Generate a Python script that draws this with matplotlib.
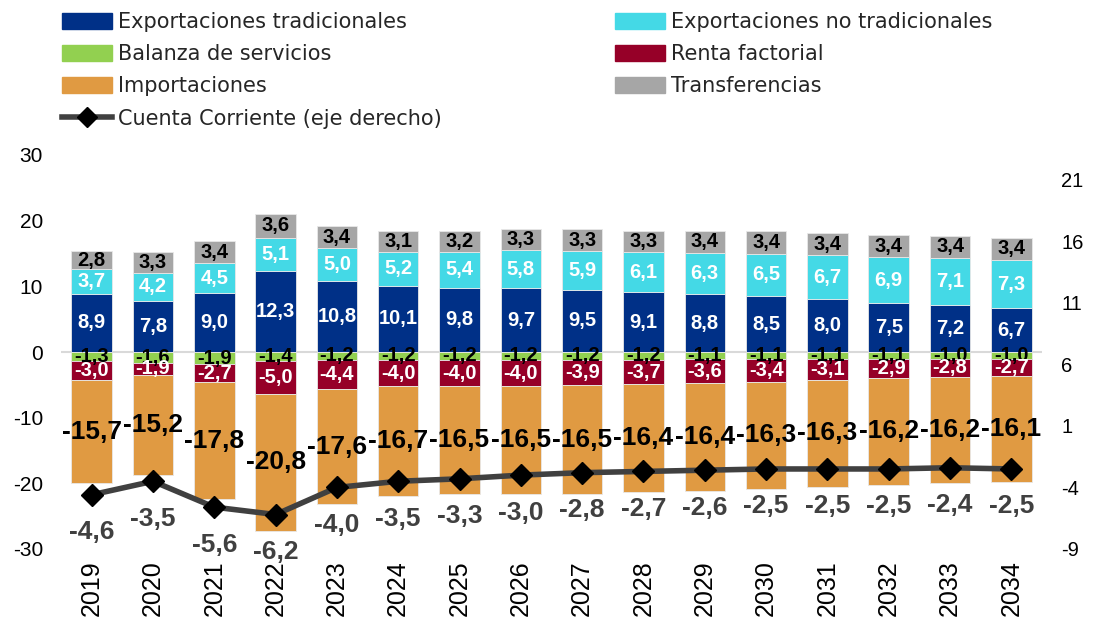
import matplotlib.pyplot as plt
import numpy as np
from matplotlib.patches import Patch
from matplotlib.lines import Line2D

years = ['2019', '2020', '2021', '2022', '2023', '2024', '2025', '2026',
         '2027', '2028', '2029', '2030', '2031', '2032', '2033', '2034']
exp_trad = [8.9, 7.8, 9.0, 12.3, 10.8, 10.1, 9.8, 9.7, 9.5, 9.1, 8.8, 8.5, 8.0, 7.5, 7.2, 6.7]
exp_no_trad = [3.7, 4.2, 4.5, 5.1, 5.0, 5.2, 5.4, 5.8, 5.9, 6.1, 6.3, 6.5, 6.7, 6.9, 7.1, 7.3]
transferencias = [2.8, 3.3, 3.4, 3.6, 3.4, 3.1, 3.2, 3.3, 3.3, 3.3, 3.4, 3.4, 3.4, 3.4, 3.4, 3.4]
servicios = [-1.3, -1.6, -1.9, -1.4, -1.2, -1.2, -1.2, -1.2, -1.2, -1.2, -1.1, -1.1, -1.1, -1.1, -1.0, -1.0]
renta = [-3.0, -1.9, -2.7, -5.0, -4.4, -4.0, -4.0, -4.0, -3.9, -3.7, -3.6, -3.4, -3.1, -2.9, -2.8, -2.7]
importaciones = [-15.7, -15.2, -17.8, -20.8, -17.6, -16.7, -16.5, -16.5, -16.5, -16.4, -16.4, -16.3, -16.3, -16.2, -16.2, -16.1]
cuenta_corriente = [-4.6, -3.5, -5.6, -6.2, -4.0, -3.5, -3.3, -3.0, -2.8, -2.7, -2.6, -2.5, -2.5, -2.5, -2.4, -2.5]

c_trad = '#003087'
c_notrad = '#44D9E6'
c_transf = '#A6A6A6'
c_serv = '#92D050'
c_renta = '#960028'
c_imp = '#E09A42'
c_line = '#404040'

plt.rcParams['font.family'] = ['Liberation Sans', 'DejaVu Sans']
plt.rcParams['axes.unicode_minus'] = False

fig = plt.figure(figsize=(10.93, 6.32), dpi=100)
ax = fig.add_axes([61 / 1093, 1 - 549 / 632, (1042 - 61) / 1093, (549 - 155) / 632])
ax2 = ax.twinx()

x = np.arange(len(years))
w = 0.66
edge = dict(edgecolor='#e8e8e8', linewidth=0.6)


def fmt(v):
    return f'{v:.1f}'.replace('.', ',')


def stack(vals, bottoms, color, txtcolor, size=14.5):
    ax.bar(x, vals, w, bottom=bottoms, color=color, zorder=2, **edge)
    for xi, v, b in zip(x, vals, bottoms):
        ax.text(xi, b + v / 2, fmt(v), ha='center', va='center', color=txtcolor,
                fontsize=size, fontweight='bold', zorder=5)


zero = np.zeros(len(x))
pos1 = np.array(exp_trad)
pos2 = pos1 + np.array(exp_no_trad)
neg1 = np.array(servicios)
neg2 = neg1 + np.array(renta)

stack(exp_trad, zero, c_trad, 'white')
stack(exp_no_trad, pos1, c_notrad, 'white')
stack(transferencias, pos2, c_transf, 'black')
stack(servicios, zero, c_serv, 'black')
stack(renta, neg1, c_renta, 'white')
stack(importaciones, neg2, c_imp, 'black', size=19)

ax.axhline(0, color='#d9d9d9', lw=1.5, zorder=1)
ax.set_xlim(-0.5, 15.5)
ax.set_ylim(-30, 30)
ax.set_yticks([-30, -20, -10, 0, 10, 20, 30])
ax.set_xticks(x)
ax.set_xticklabels(years, rotation=90, fontsize=18)
ax.tick_params(axis='y', labelsize=15, length=0, pad=13)
ax.tick_params(axis='x', length=0, pad=8)
for s in ax.spines.values():
    s.set_visible(False)

# cuenta corriente (eje derecho)
ax2.plot(x, cuenta_corriente, color=c_line, lw=4, marker='D', markersize=11,
         markerfacecolor='black', markeredgecolor='black', zorder=4)
for xi, v in zip(x, cuenta_corriente):
    ax2.annotate(fmt(v), (xi, v), xytext=(0, -27), textcoords='offset points',
                 ha='center', va='center', color=c_line, fontsize=19, fontweight='bold')
ax2.set_ylim(-9, 23)
ax2.set_yticks([-9, -4, 1, 6, 11, 16, 21])
ax2.tick_params(axis='y', labelsize=14.5, length=0, pad=14)
for s in ax2.spines.values():
    s.set_visible(False)
ax.set_zorder(1)
ax.patch.set_visible(False)
ax2.set_zorder(2)

# legend
h1 = [Patch(color=c_trad), Patch(color=c_serv), Patch(color=c_imp),
      Line2D([], [], color=c_line, lw=4, marker='D', markersize=10,
             markerfacecolor='black', markeredgecolor='black')]
l1 = ['Exportaciones tradicionales', 'Balanza de servicios', 'Importaciones',
      'Cuenta Corriente (eje derecho)']
h2 = [Patch(color=c_notrad), Patch(color=c_renta), Patch(color=c_transf)]
l2 = ['Exportaciones no tradicionales', 'Renta factorial', 'Transferencias']
common = dict(frameon=False, handlelength=2.4, handleheight=0.8,
              handletextpad=0.25, labelspacing=0.58, borderaxespad=0,
              prop={'family': 'DejaVu Sans', 'size': 15})
leg1 = fig.legend(h1, l1, loc='upper left', bbox_to_anchor=(54 / 1093, 1 - 4 / 632), **common)
leg2 = fig.legend(h2, l2, loc='upper left', bbox_to_anchor=(607 / 1093, 1 - 4 / 632), **common)
for t in leg1.get_texts() + leg2.get_texts():
    t.set_color('#262626')

fig.savefig('out.png', dpi=100)
